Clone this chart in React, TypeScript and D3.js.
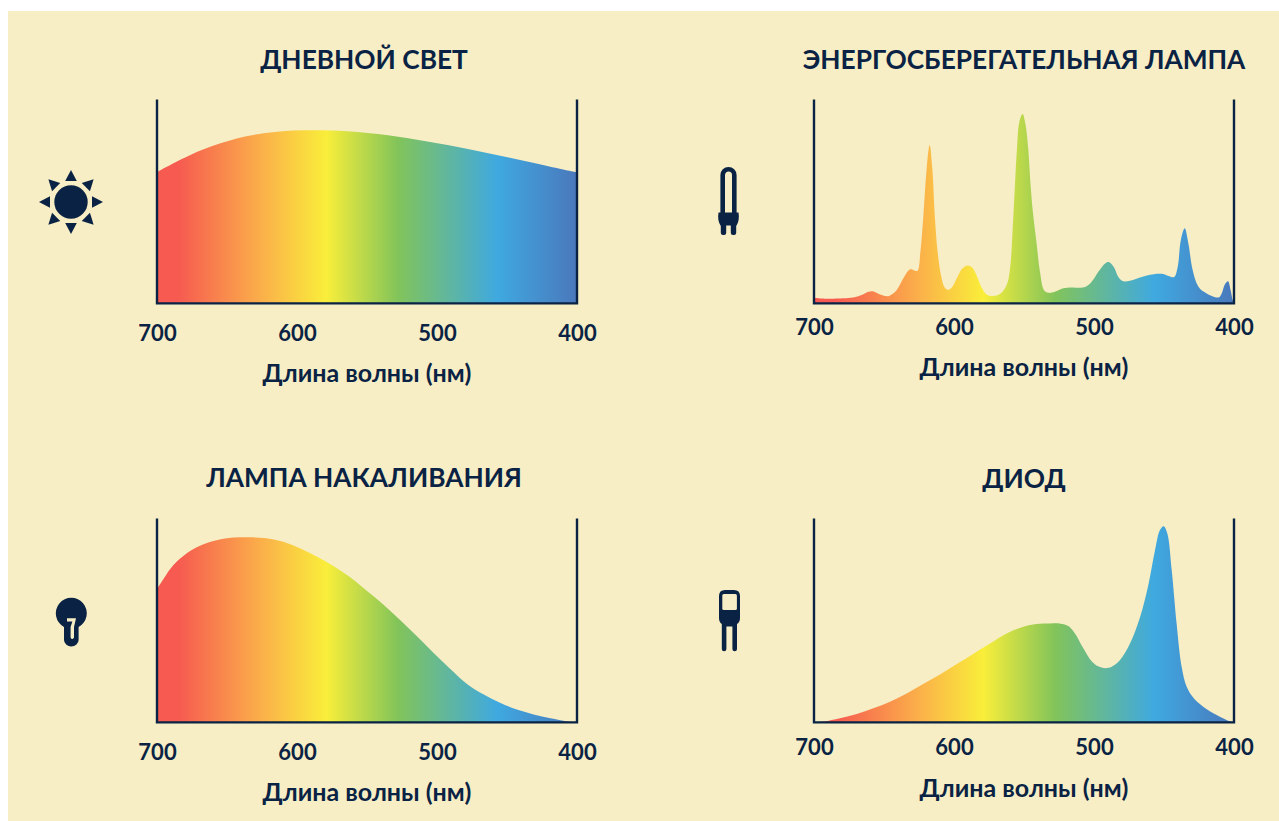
import React, { useEffect, useRef } from 'react';
import * as d3 from 'd3';

// wavelength (nm) / relative intensity
const daylightNm = [700, 681, 661, 637, 614, 591, 564, 535, 506, 477, 448, 419, 400];
const daylightVal = [64.4, 71.2, 77, 81.8, 84.2, 84.9, 84.4, 82.4, 79.2, 75.6, 71.4, 67, 64.2];

const cflNm = [700, 691, 679, 672, 666, 661, 658, 654, 649, 646, 641, 636.5, 633, 631, 628, 626, 624, 622, 619.5, 617.4, 615.5, 613.6, 611.7, 609.3, 607, 604.6, 601.7, 598, 594.5, 590.5, 587, 584, 580, 576.7, 572, 567, 562.4, 560, 557.6, 555, 553.3, 551, 549, 547, 545.5, 543.8, 541, 538.6, 535.7, 532.6, 528, 522, 516, 506.4, 501.7, 496.9, 492.1, 489.5, 486, 482.6, 479, 474.3, 464.7, 455.2, 450.4, 446.9, 442.8, 440.2, 438, 435.2, 432.6, 429.5, 425.4, 419.5, 411, 408.8, 406.4, 404.3, 402.4, 400.8, 400];
const cflVal = [2.8, 2.3, 2.5, 2.9, 4.1, 5.7, 5.9, 4.7, 3.6, 3.8, 6.5, 11.9, 15.8, 16.8, 16, 16, 25.3, 41.7, 66.2, 77.6, 66.2, 41.7, 25.3, 13.9, 8.2, 6.7, 7.7, 12.3, 16.8, 18.6, 17.6, 13.9, 7.4, 4.4, 3.6, 4.7, 9, 17, 43, 76, 89, 92.8, 88, 76, 60, 45.7, 29.4, 15.5, 6.5, 5.2, 5.7, 7.4, 7.8, 8, 10.6, 15.5, 19.6, 20.3, 18, 13, 10.8, 11.1, 13.2, 14.5, 14.4, 13.4, 12.9, 18, 31, 36.8, 29.4, 16.3, 8.2, 4.9, 2.9, 4.9, 9.5, 10.9, 6.5, 1.6, 1];

const incandescentNm = [700, 695.5, 690.7, 686, 681.2, 675.2, 669.3, 663.3, 657.4, 651.4, 645.5, 633.6, 621.7, 609.8, 597.9, 586, 574, 562, 550, 538, 526, 514.5, 502.6, 490.7, 478.8, 466.9, 455, 443, 431, 419, 407, 400];
const incandescentVal = [65.4, 70.2, 75.1, 78.7, 81.6, 84.5, 86.6, 88.2, 89.3, 90.1, 90.6, 90.7, 90.3, 88.5, 85.4, 81.3, 76.7, 71.1, 64.4, 57.6, 49.9, 42.3, 34.1, 26.3, 19, 13.8, 9.6, 6.3, 3.9, 2, 0.5, 0];

const ledNm = [700, 693, 681.4, 669.5, 657.6, 645.7, 633.8, 622, 610, 598, 586, 574.3, 562.4, 550.5, 541, 531.4, 524, 518.3, 513.6, 507.6, 501.7, 497, 492, 487.4, 481.4, 474.3, 467, 461, 456.4, 452.9, 450.2, 447.6, 444.5, 441, 437.4, 433.8, 429, 422, 412.4, 405, 400];
const ledVal = [0, 0.4, 2, 4.1, 6.9, 10.1, 14.2, 18.8, 23.5, 28.6, 33.7, 38.7, 43.6, 46.9, 48.2, 48.5, 48.4, 47.2, 43.6, 36.3, 30, 27.5, 26.6, 27.3, 30.6, 38.7, 51.8, 68, 84.5, 94.3, 96.2, 92.6, 74.7, 48.5, 27.3, 17.5, 12.1, 7.7, 3.6, 1.1, 0];

const tickValues = [700, 600, 500, 400];
const xLabel = 'Длина волны (нм)';

// spectrum colours by wavelength
const stopNm = [700, 685, 625, 579, 528, 457, 400];
const stopColor = ['#f65a50', '#f65a50', '#fbb04a', '#f9ee3a', '#82c45a', '#3fa9e0', '#4a78bc'];

const INK = '#0a2344';
const PAPER = '#f7eec5';
const FONT = 'Lato, "Noto Sans", sans-serif';

const panels = [
  { id: 'day', title: 'ДНЕВНОЙ СВЕТ', nm: daylightNm, val: daylightVal, left: 157, base: 303.4, tickY: 341, labelY: 382, titleY: 69 },
  { id: 'cfl', title: 'ЭНЕРГОСБЕРЕГАТЕЛЬНАЯ ЛАМПА', nm: cflNm, val: cflVal, left: 814, base: 303.4, tickY: 335, labelY: 376, titleY: 69 },
  { id: 'inc', title: 'ЛАМПА НАКАЛИВАНИЯ', nm: incandescentNm, val: incandescentVal, left: 157, base: 722.4, tickY: 760, labelY: 801, titleY: 487 },
  { id: 'led', title: 'ДИОД', nm: ledNm, val: ledVal, left: 814, base: 722.4, tickY: 755, labelY: 797, titleY: 488 },
];

const App = () => {
  const ref = useRef<SVGSVGElement>(null);

  useEffect(() => {
    const svg = d3.select(ref.current);
    svg.selectAll('*').remove();

    svg.append('rect')
      .attr('x', 8).attr('y', 11)
      .attr('width', 1271).attr('height', 810)
      .attr('fill', PAPER);

    const defs = svg.append('defs');

    panels.forEach(p => {
      const width = 420;
      const height = 204;
      const x = d3.scaleLinear().domain([700, 400]).range([p.left, p.left + width]);
      const y = d3.scaleLinear().domain([0, 100]).range([p.base, p.base - height]);

      const grad = defs.append('linearGradient')
        .attr('id', `spec-${p.id}`)
        .attr('gradientUnits', 'userSpaceOnUse')
        .attr('x1', x(700)).attr('x2', x(400))
        .attr('y1', 0).attr('y2', 0);
      stopNm.forEach((nm, i) => {
        grad.append('stop')
          .attr('offset', (700 - nm) / 300)
          .attr('stop-color', stopColor[i]);
      });

      const area = d3.area<number>()
        .x((_, i) => x(p.nm[i]))
        .y0(y(0))
        .y1(d => Math.min(y(d), y(0)))
        .curve(d3.curveCatmullRom.alpha(0.5));

      svg.append('path')
        .attr('d', area(p.val))
        .attr('fill', `url(#spec-${p.id})`);

      // frame: two uprights and the base
      svg.append('path')
        .attr('d', d3.line()([[x(700), y(100)], [x(700), y(0)], [x(400), y(0)], [x(400), y(100)]]))
        .attr('fill', 'none')
        .attr('stroke', INK)
        .attr('stroke-width', 2.4);

      const axis = svg.append('g')
        .attr('transform', `translate(0,${p.tickY})`)
        .call(d3.axisBottom(x).tickValues(tickValues).tickSize(0).tickPadding(0));
      axis.select('.domain').remove();
      axis.selectAll('text')
        .attr('y', 0).attr('dy', 0)
        .attr('fill', INK)
        .style('font', `700 22px ${FONT}`);

      svg.append('text')
        .attr('x', x(550)).attr('y', p.labelY)
        .attr('text-anchor', 'middle')
        .attr('fill', INK)
        .style('font', `700 25px ${FONT}`)
        .text(xLabel);

      svg.append('text')
        .attr('x', x(550) - (p.left === 157 ? 3 : 0)).attr('y', p.titleY)
        .attr('text-anchor', 'middle')
        .attr('fill', INK)
        .style('font', `700 26.3px ${FONT}`)
        .text(p.title);
    });

    // sun
    const sun = svg.append('g').attr('transform', 'translate(71,202)').attr('fill', INK);
    sun.append('circle').attr('r', 16.7);
    d3.range(8).forEach(i => {
      sun.append('path')
        .attr('d', 'M0,-32 L5.8,-21 L-5.8,-21 Z')
        .attr('transform', `rotate(${i * 45})`);
    });

    // compact fluorescent tube
    const tube = svg.append('g').attr('fill', INK);
    tube.append('path')
      .attr('d', 'M722.7,214 V175 A5.8,5.8 0 0 1 734.3,175 V214')
      .attr('fill', 'none').attr('stroke', INK).attr('stroke-width', 4.6);
    tube.append('path')
      .attr('d', 'M718.5,212.5 H738.5 Q739.8,220 736.5,225.5 H720.5 Q717.2,220 718.5,212.5 Z');
    tube.append('rect').attr('x', 720.8).attr('y', 222).attr('width', 5.4).attr('height', 13).attr('rx', 2.2);
    tube.append('rect').attr('x', 730.8).attr('y', 222).attr('width', 5.4).attr('height', 13).attr('rx', 2.2);

    // incandescent bulb
    const bulb = svg.append('g');
    bulb.append('path')
      .attr('fill', INK)
      .attr('d', 'M64,627 A15.5,15.5 0 1 1 78.6,627 V640 A7.3,6.5 0 0 1 64,640 Z');
    bulb.append('path')
      .attr('fill', PAPER)
      .attr('d', 'M67,618.2 H76 L74,627 V637.5 Q72,640.5 70.6,637.5 V627 L72.4,621.4 H67 Z');

    // diode
    const led = svg.append('g');
    led.append('path')
      .attr('fill', INK)
      .attr('d', 'M719,596 Q719,590 725,590 H734 Q740,590 740,596 V618 Q740,622 737,624 V649 A2.3,2.3 0 0 1 732.4,649 V626.5 H726.4 V649 A2.3,2.3 0 0 1 721.8,649 V624 Q719,622 719,618 Z');
    led.append('rect')
      .attr('x', 722.3).attr('y', 594).attr('width', 14.6).attr('height', 16).attr('rx', 1.5)
      .attr('fill', PAPER);
  }, []);

  return (
    <svg
      ref={ref}
      width={1279}
      height={821}
      style={{ position: 'absolute', left: 0, top: 0, display: 'block', background: '#fff' }}
    />
  );
};

export default App;
